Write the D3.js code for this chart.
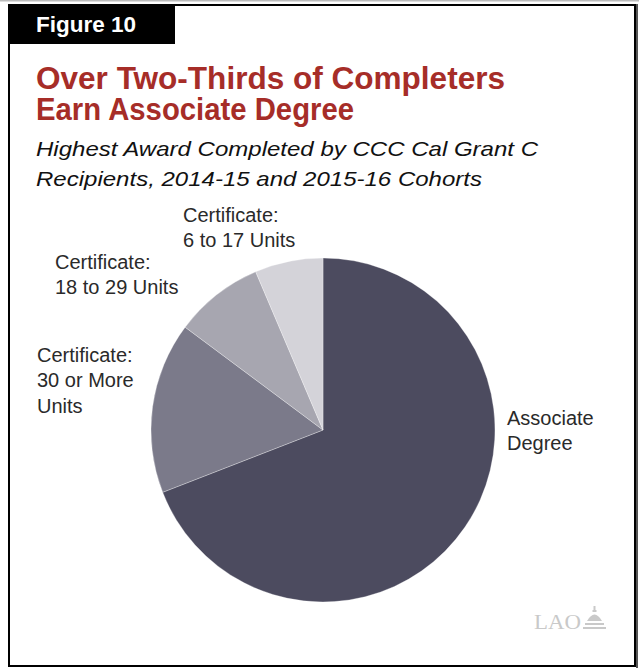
<!DOCTYPE html>
<html>
<head>
<meta charset="utf-8">
<script src="https://cdn.jsdelivr.net/npm/d3@7"></script>
<style>
  html, body { margin: 0; padding: 0; background: #fff; }
  svg { display: block; }
</style>
</head>
<body>
<svg id="chart" width="639" height="668"></svg>
<script>
// ---- Data ----
const categories = [
  "Associate Degree",
  "Certificate: 30 or More Units",
  "Certificate: 18 to 29 Units",
  "Certificate: 6 to 17 Units"
];
const shares = [69.1, 16.1, 8.4, 6.4];
const sliceColors = ["#4c4b5f", "#7b7a8a", "#a7a6b0", "#d4d3d9"];
const labelLines = [
  ["Associate", "Degree"],
  ["Certificate:", "30 or More", "Units"],
  ["Certificate:", "18 to 29 Units"],
  ["Certificate:", "6 to 17 Units"]
];
const figureLabel = "Figure 10";
const titleLines = ["Over Two-Thirds of Completers", "Earn Associate Degree"];
const subtitleLines = ["Highest Award Completed by CCC Cal Grant C", "Recipients, 2014-15 and 2015-16 Cohorts"];

// ---- Layout ----
const svg = d3.select("#chart");
const font = "'Liberation Sans', Arial, Helvetica, sans-serif";

// Frame
svg.append("rect").attr("x", 0).attr("y", 0).attr("width", 639).attr("height", 1.5).attr("fill", "#bbb");
svg.append("rect").attr("x", 636).attr("y", 4).attr("width", 2).attr("height", 664).attr("fill", "#555");
svg.append("rect")
  .attr("x", 9).attr("y", 5).attr("width", 626).attr("height", 661)
  .attr("fill", "#fff").attr("stroke", "#000").attr("stroke-width", 2);

// Figure tag
svg.append("rect").attr("x", 8).attr("y", 4).attr("width", 167).attr("height", 40).attr("fill", "#000");
svg.append("text").attr("x", 36).attr("y", 32)
  .attr("font-family", font).attr("font-weight", "bold").attr("font-size", 22.5)
  .attr("fill", "#fff").text(figureLabel);

// Title
const titleW = [469, 318];
titleLines.forEach((t, i) => {
  svg.append("text").attr("x", 36).attr("y", 89 + i * 31)
    .attr("font-family", font).attr("font-weight", "bold").attr("font-size", 30.5)
    .attr("fill", "#a62d28")
    .attr("textLength", titleW[i]).attr("lengthAdjust", "spacingAndGlyphs")
    .text(t);
});

// Subtitle
const subW = [502, 446];
subtitleLines.forEach((t, i) => {
  svg.append("text").attr("x", 36).attr("y", 156 + i * 30)
    .attr("font-family", font).attr("font-style", "italic").attr("font-size", 21)
    .attr("fill", "#111")
    .attr("textLength", subW[i]).attr("lengthAdjust", "spacingAndGlyphs")
    .text(t);
});

// Pie
const cx = 323, cy = 430, radius = 172;
const pie = d3.pie().sort(null).value(d => d)(shares);
const arc = d3.arc().innerRadius(0).outerRadius(radius);
const g = svg.append("g").attr("transform", `translate(${cx},${cy})`);
g.selectAll("path").data(pie).join("path")
  .attr("d", arc)
  .attr("fill", (d, i) => sliceColors[i])
  .attr("stroke", "#fff").attr("stroke-width", 0.3);

// Labels (anchor positions of text blocks)
const labelPos = [[507, 424.5], [37, 361.5], [55, 268.5], [183, 221.5]];
const lineH = 25.8;
labelLines.forEach((lines, i) => {
  const t = svg.append("text")
    .attr("font-family", font).attr("font-size", 20).attr("fill", "#2a2a2a");
  lines.forEach((ln, j) => {
    t.append("tspan").attr("x", labelPos[i][0]).attr("y", labelPos[i][1] + j * lineH).text(ln);
  });
});

// LAO logo
const logo = svg.append("g").attr("fill", "#c9c9c9");
logo.append("text").attr("x", 534).attr("y", 629)
  .attr("font-family", "'Liberation Serif', 'DejaVu Serif', serif").attr("font-size", 22)
  .attr("textLength", 47).attr("lengthAdjust", "spacingAndGlyphs")
  .text("LAO");
// small capitol dome icon
logo.append("rect").attr("x", 583).attr("y", 627).attr("width", 23).attr("height", 2);
logo.append("rect").attr("x", 585).attr("y", 623).attr("width", 19).attr("height", 2);
logo.append("path").attr("d", "M587,621 Q594.5,608 602,621 Z");
logo.append("rect").attr("x", 593.5).attr("y", 606).attr("width", 2).attr("height", 4);
logo.append("rect").attr("x", 592.5).attr("y", 610).attr("width", 4).attr("height", 2);
</script>
</body>
</html>
